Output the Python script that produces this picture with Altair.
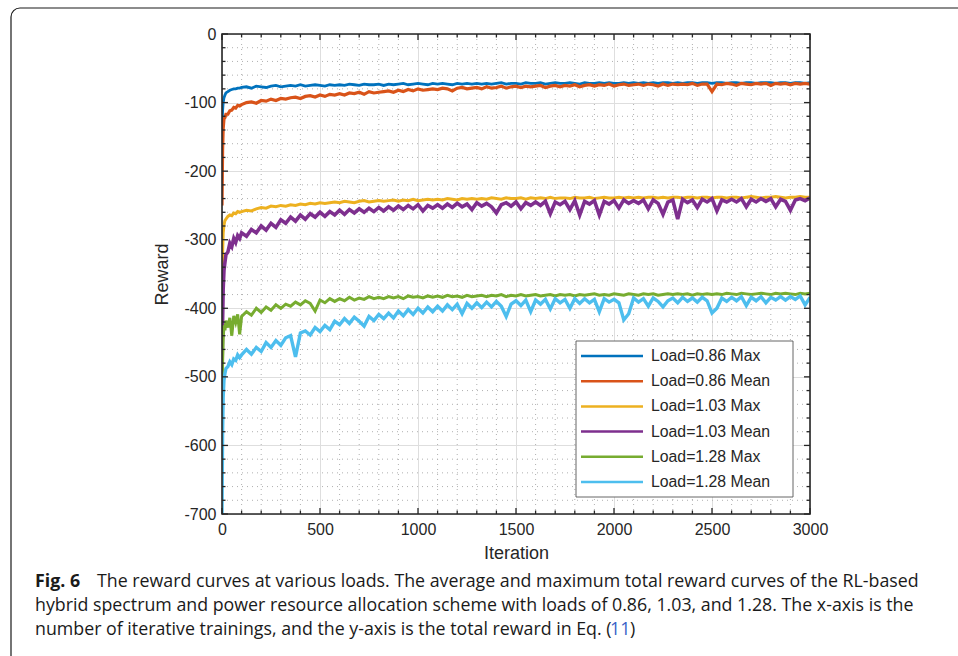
import altair as alt
import pandas as pd

# ---------------- data ----------------
iters_early = [0, 3, 6, 10, 15, 20, 30, 40, 50, 60, 70, 80, 90]
iters_main = list(range(100, 3001, 25))
iterations = iters_early + iters_main

series_names = ["Load=0.86 Max", "Load=0.86 Mean", "Load=1.03 Max",
                "Load=1.03 Mean", "Load=1.28 Max", "Load=1.28 Mean"]
series_colors = ["#0072BD", "#D95319", "#EDB120", "#7E2F8E", "#77AC30", "#4DBEEE"]
series_widths = [2.8, 3.2, 3.0, 3.6, 3.0, 3.4]

max_086 = [-135, -112, -100, -93, -89, -86, -84, -82, -81, -80, -80, -79, -79,
           -78, -77, -79, -76, -77, -78, -76, -75, -77, -76,
           -75, -76, -74, -76, -75, -74, -75, -76, -74, -75,
           -74, -75, -73, -74, -75, -73, -74, -74, -73, -75,
           -73, -74, -73, -72, -74, -73, -72, -73, -74, -72,
           -73, -72, -73, -74, -72, -73, -72, -73, -72, -73,
           -72, -73, -72, -71, -73, -72, -72, -73, -71, -72,
           -72, -71, -73, -72, -71, -72, -72, -71, -72, -73,
           -71, -72, -72, -71, -72, -71, -72, -72, -71, -72,
           -71, -72, -71, -72, -71, -72, -71, -71, -72, -71,
           -72, -71, -71, -72, -71, -71, -72, -71, -71, -72,
           -71, -71, -72, -71, -71, -72, -71, -71, -71, -72,
           -71, -71, -72, -71, -71, -72, -71]

mean_086 = [-250, -170, -138, -124, -122, -117, -117, -112, -111, -107, -108, -104, -105,
            -103, -100, -99, -101, -97, -98, -95, -97, -94, -95,
            -93, -92, -94, -91, -90, -92, -89, -91, -88, -89,
            -87, -89, -86, -87, -85, -88, -84, -86, -85, -84,
            -83, -85, -82, -84, -81, -83, -80, -82, -81, -80,
            -81, -79, -80, -83, -79, -78, -80, -79, -78, -80,
            -77, -79, -78, -76, -79, -77, -76, -78, -76, -77,
            -76, -75, -78, -76, -75, -77, -75, -76, -74, -77,
            -75, -74, -76, -74, -75, -73, -76, -74, -73, -75,
            -74, -73, -75, -73, -74, -76, -73, -75, -73, -74,
            -73, -74, -72, -75, -73, -73, -84, -73, -74, -72,
            -73, -75, -72, -73, -74, -72, -73, -72, -75, -72,
            -73, -72, -74, -72, -73, -72, -73]

max_103 = [-410, -320, -290, -279, -272, -270, -266, -264, -265, -261, -262, -259, -260,
           -259, -257, -258, -255, -253, -254, -251, -252, -250, -251,
           -249, -250, -248, -249, -247, -248, -246, -247, -246, -245,
           -246, -244, -245, -246, -244, -243, -245, -244, -243, -244,
           -243, -242, -244, -242, -243, -241, -243, -242, -241, -242,
           -241, -242, -240, -241, -242, -240, -241, -240, -241, -240,
           -241, -239, -240, -241, -239, -240, -240, -239, -241, -239,
           -240, -239, -240, -238, -240, -239, -239, -240, -238, -239,
           -239, -238, -240, -239, -238, -239, -239, -238, -239, -238,
           -239, -238, -239, -238, -238, -239, -238, -239, -238, -238,
           -239, -238, -238, -239, -238, -238, -239, -238, -238, -239,
           -238, -238, -239, -238, -237, -238, -239, -238, -238, -237,
           -238, -239, -238, -238, -237, -238, -238]

mean_103 = [-500, -420, -372, -345, -333, -322, -318, -305, -310, -298, -304, -294, -298,
            -290, -295, -285, -290, -280, -286, -276, -282, -271, -276,
            -267, -273, -264, -270, -262, -267, -260, -266, -259, -264,
            -257, -263, -256, -261, -255, -260, -254, -259, -253, -258,
            -252, -257, -251, -256, -250, -255, -249, -258, -250, -254,
            -249, -254, -248, -253, -247, -252, -248, -256, -246, -251,
            -247, -252, -261, -249, -246, -251, -245, -255, -246, -250,
            -245, -250, -244, -262, -245, -249, -244, -256, -243, -264,
            -244, -248, -243, -264, -244, -248, -243, -254, -242, -247,
            -243, -247, -242, -255, -242, -247, -263, -245, -242, -270,
            -241, -246, -242, -253, -241, -245, -240, -258, -242, -245,
            -241, -245, -240, -252, -241, -245, -240, -244, -240, -252,
            -241, -244, -257, -242, -240, -243, -239]

max_128 = [-600, -480, -445, -425, -432, -418, -428, -414, -440, -411, -421, -409, -438,
           -412, -405, -410, -400, -406, -398, -403, -395, -400, -394,
           -397, -391, -395, -389, -393, -404, -388, -392, -386, -390,
           -386, -389, -384, -388, -385, -387, -383, -386, -384, -386,
           -383, -385, -383, -386, -382, -384, -383, -385, -382, -384,
           -382, -384, -381, -383, -382, -384, -381, -383, -382, -381,
           -383, -381, -382, -380, -383, -381, -382, -380, -382, -381,
           -380, -382, -381, -380, -382, -380, -381, -380, -382, -380,
           -381, -380, -379, -381, -380, -381, -379, -380, -381, -379,
           -380, -381, -379, -380, -379, -381, -380, -379, -380, -379,
           -380, -379, -381, -379, -380, -379, -380, -379, -380, -378,
           -379, -380, -378, -379, -380, -379, -378, -379, -380, -378,
           -379, -378, -379, -380, -378, -379, -378]

mean_128 = [-700, -580, -530, -505, -495, -488, -485, -478, -482, -474, -476, -468, -472,
            -468, -460, -467, -457, -463, -450, -457, -447, -454, -443,
            -440, -471, -436, -433, -439, -428, -434, -425, -431, -419,
            -424, -415, -422, -413, -419, -426, -412, -418, -409, -415,
            -407, -414, -404, -411, -402, -409, -400, -407, -398, -405,
            -397, -404, -395, -402, -394, -408, -393, -400, -392, -399,
            -391, -398, -390, -397, -412, -394, -389, -396, -388, -405,
            -388, -394, -387, -401, -386, -392, -387, -400, -386, -393,
            -386, -392, -387, -405, -386, -391, -387, -392, -417, -408,
            -385, -391, -386, -397, -385, -390, -398, -389, -385, -392,
            -384, -390, -385, -391, -384, -389, -407, -400, -385, -390,
            -384, -389, -383, -396, -384, -389, -383, -392, -384, -388,
            -383, -388, -383, -387, -382, -395, -384]

series_values = [max_086, mean_086, max_103, mean_103, max_128, mean_128]
for s in series_values:
    assert len(s) == len(iterations), len(s)

x_ticks = [0, 500, 1000, 1500, 2000, 2500, 3000]
y_ticks = [0, -100, -200, -300, -400, -500, -600, -700]
x_minor = [v for v in range(0, 3001, 100) if v % 500 != 0]
y_minor = [v for v in range(-700, 1, 20) if v % 100 != 0]

caption_bold = "Fig. 6"
caption_lines = [
    "The reward curves at various loads. The average and maximum total reward curves of the RL-based",
    "hybrid spectrum and power resource allocation scheme with loads of 0.86, 1.03, and 1.28. The x-axis is the",
    "number of iterative trainings, and the y-axis is the total reward in Eq. (",
]
caption_ref = "11"

# ---------------- chart ----------------
W, H = 588, 480
AX = "#262626"
FONT = "Arial"

xs = alt.Scale(domain=[0, 3000], nice=False, zero=False)
ys = alt.Scale(domain=[-700, 0], nice=False, zero=False)

x_axis = alt.Axis(values=x_ticks, title="Iteration", ticks=False, tickSize=0, domain=False,
                  grid=True, gridColor="#dedede", gridWidth=1, labelFlush=False,
                  labelFont=FONT, labelFontSize=16, labelColor=AX, labelPadding=7,
                  labelExpr="'' + datum.value",
                  titleFont=FONT, titleFontSize=18, titleFontWeight="normal", titleColor=AX,
                  titlePadding=7)
y_axis = alt.Axis(values=y_ticks, title="Reward", ticks=False, tickSize=0, domain=False,
                  grid=True, gridColor="#dedede", gridWidth=1, labelFlush=False,
                  labelFont=FONT, labelFontSize=16, labelColor=AX, labelPadding=6,
                  labelExpr="'' + datum.value",
                  titleFont=FONT, titleFontSize=18, titleFontWeight="normal", titleColor=AX,
                  titlePadding=12)

one = pd.DataFrame({"k": [0]})
layers = []

# minor grid (dotted)
dfx_minor = pd.DataFrame({"v": x_minor})
dfy_minor = pd.DataFrame({"v": y_minor})
layers.append(alt.Chart(dfx_minor).mark_rule(color="#b0b0b0", strokeWidth=1, strokeDash=[1, 4]).encode(
    x=alt.X("v:Q", scale=xs, axis=x_axis), y=alt.value(0), y2=alt.value(H)))
layers.append(alt.Chart(dfy_minor).mark_rule(color="#b0b0b0", strokeWidth=1, strokeDash=[1, 4]).encode(
    y=alt.Y("v:Q", scale=ys, axis=y_axis), x=alt.value(0), x2=alt.value(W)))

# curves
for name, vals, col, sw in zip(series_names, series_values, series_colors, series_widths):
    df = pd.DataFrame({"Iteration": iterations, "Reward": vals})
    layers.append(alt.Chart(df).mark_line(color=col, strokeWidth=sw, clip=True,
                                          strokeJoin="miter").encode(
        x=alt.X("Iteration:Q", scale=xs, axis=x_axis),
        y=alt.Y("Reward:Q", scale=ys, axis=y_axis)))

# inward ticks on all four sides
dfx_major = pd.DataFrame({"v": x_ticks})
dfy_major = pd.DataFrame({"v": y_ticks})
for dfv, ln in ((dfx_major, 6), (dfx_minor, 3.5)):
    for y0, y1 in ((H, H - ln), (0, ln)):
        layers.append(alt.Chart(dfv).mark_rule(color=AX, strokeWidth=1.3).encode(
            x=alt.X("v:Q", scale=xs, axis=x_axis), y=alt.value(y0), y2=alt.value(y1)))
for dfv, ln in ((dfy_major, 6), (dfy_minor, 3.5)):
    for x0, x1 in ((0, ln), (W, W - ln)):
        layers.append(alt.Chart(dfv).mark_rule(color=AX, strokeWidth=1.3).encode(
            y=alt.Y("v:Q", scale=ys, axis=y_axis), x=alt.value(x0), x2=alt.value(x1)))

# axes box
layers.append(alt.Chart(one).mark_rect(fillOpacity=0, stroke=AX, strokeWidth=1.6).encode(
    x=alt.value(0), x2=alt.value(W), y=alt.value(0), y2=alt.value(H)))

# legend box
LX0, LY0, LX1, LY1 = 354, 307, 571, 463
layers.append(alt.Chart(one).mark_rect(fill="white", stroke="#555555", strokeWidth=0.9).encode(
    x=alt.value(LX0), x2=alt.value(LX1), y=alt.value(LY0), y2=alt.value(LY1)))
for i, (name, col) in enumerate(zip(series_names, series_colors)):
    yy = LY0 + 15 + 25.2 * i
    layers.append(alt.Chart(one).mark_rule(color=col, strokeWidth=2.5).encode(
        x=alt.value(LX0 + 5), x2=alt.value(LX0 + 67), y=alt.value(yy)))
    layers.append(alt.Chart(one).mark_text(text=name, align="left", baseline="middle",
                                           font=FONT, fontSize=15.8, color=AX).encode(
        x=alt.value(LX0 + 75), y=alt.value(yy)))

# figure frame with rounded top-left corner
layers.append(alt.Chart(one).mark_rect(fillOpacity=0, stroke="#1a1a1a", strokeWidth=1.2,
                                       cornerRadius=9).encode(
    x=alt.value(11 - 222), x2=alt.value(958 - 222 + 30),
    y=alt.value(8 - 34), y2=alt.value(656 - 34 + 30)))

# caption
CAP_FONT = "Open Sans"
CAP_SIZE = 17.8
cap_x = 35 - 222
cap_y = [582 - 34, 606 - 34, 630 - 34]
layers.append(alt.Chart(one).mark_text(text=caption_bold, align="left", baseline="middle",
                                       font=CAP_FONT, fontSize=CAP_SIZE, fontWeight="bold",
                                       color="#1a1a1a").encode(
    x=alt.value(cap_x), y=alt.value(cap_y[0])))
layers.append(alt.Chart(one).mark_text(text=caption_lines[0], align="left", baseline="middle",
                                       font=CAP_FONT, fontSize=CAP_SIZE, color="#1a1a1a").encode(
    x=alt.value(97 - 222), y=alt.value(cap_y[0])))
layers.append(alt.Chart(one).mark_text(text=caption_lines[1], align="left", baseline="middle",
                                       font=CAP_FONT, fontSize=CAP_SIZE, color="#1a1a1a").encode(
    x=alt.value(cap_x), y=alt.value(cap_y[1])))
layers.append(alt.Chart(one).mark_text(text=caption_lines[2], align="left", baseline="middle",
                                       font=CAP_FONT, fontSize=CAP_SIZE, color="#1a1a1a").encode(
    x=alt.value(cap_x), y=alt.value(cap_y[2])))
layers.append(alt.Chart(one).mark_text(text=caption_ref, align="left", baseline="middle",
                                       font=CAP_FONT, fontSize=CAP_SIZE, color="#3a62c8").encode(
    x=alt.value(610 - 222), y=alt.value(cap_y[2])))
layers.append(alt.Chart(one).mark_text(text=")", align="left", baseline="middle",
                                       font=CAP_FONT, fontSize=CAP_SIZE, color="#1a1a1a").encode(
    x=alt.value(630 - 222), y=alt.value(cap_y[2])))

chart = alt.layer(*layers).properties(
    width=W, height=H,
    autosize=alt.AutoSizeParams(type="none"),
    padding={"left": 222, "top": 34, "right": 958 - 222 - W, "bottom": 656 - 34 - H},
    background="white",
).configure_view(stroke=None)

chart.save("out.html", embed_options={"renderer": "svg", "actions": False})
